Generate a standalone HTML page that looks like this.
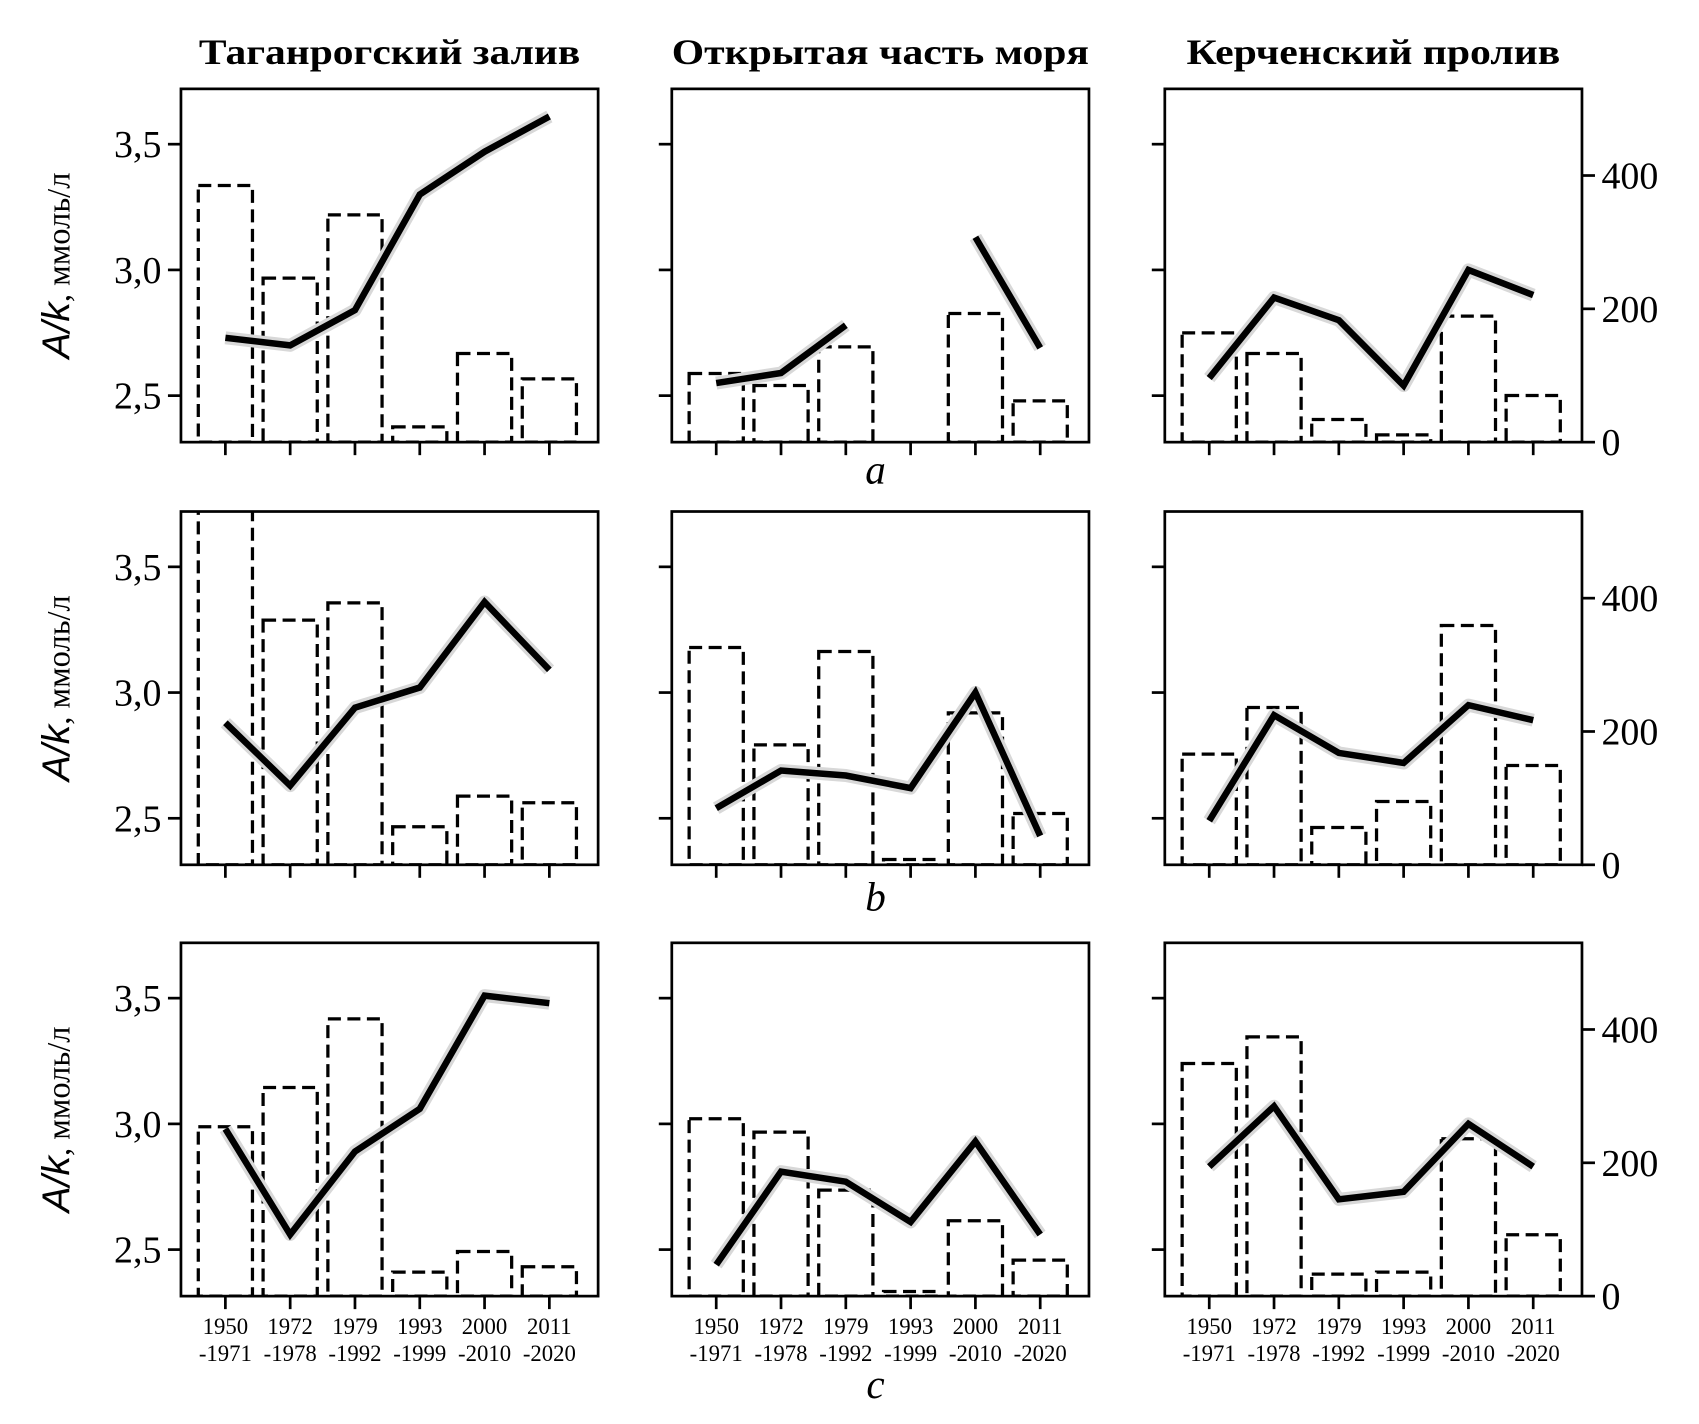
<!DOCTYPE html>
<html><head><meta charset="utf-8"><style>
html,body{margin:0;padding:0;background:#fff;}
svg{display:block;}
text{font-family:"Liberation Serif",serif;fill:#000;}
</style></head><body>
<svg id="fig" width="1699" height="1424" viewBox="0 0 1568 1314" preserveAspectRatio="none" xmlns="http://www.w3.org/2000/svg"></svg>
<script>
const categories = ["1950|-1971","1972|-1978","1979|-1992","1993|-1999","2000|-2010","2011|-2020"];
const regionTitles = ["Таганрогский залив","Открытая часть моря","Керченский пролив"];
const rowLabels = ["a","b","c"];
const leftTicks = [2.5,3.0,3.5];
const leftTickLabels = ["2,5","3,0","3,5"];
const rightTicks = [0,200,400];
// bar counts [row][panel]
const barsA1=[385,246,341,23,133,95], barsA2=[103,85,143,0,193,62], barsA3=[164,133,34,11,189,70];
const barsB1=[600,367,393,57,103,93], barsB2=[326,180,320,8,228,77], barsB3=[166,236,56,95,359,149];
const barsC1=[254,313,416,36,67,44], barsC2=[266,246,159,7,113,54], barsC3=[349,389,33,36,236,92];
// Alk lines
const lineA1=[2.73,2.70,2.84,3.30,3.47,3.61], lineA2=[2.55,2.59,2.78,null,3.13,2.69], lineA3=[2.57,2.89,2.80,2.54,3.00,2.90];
const lineB1=[2.88,2.63,2.94,3.02,3.36,3.09], lineB2=[2.54,2.69,2.67,2.62,3.00,2.43], lineB3=[2.49,2.91,2.76,2.72,2.95,2.89];
const lineC1=[2.98,2.56,2.89,3.06,3.51,3.48], lineC2=[2.44,2.81,2.77,2.61,2.93,2.56], lineC3=[2.83,3.07,2.70,2.73,3.00,2.83];

const bars=[[barsA1,barsA2,barsA3],[barsB1,barsB2,barsB3],[barsC1,barsC2,barsC3]];
const lines=[[lineA1,lineA2,lineA3],[lineB1,lineB2,lineB3],[lineC1,lineC2,lineC3]];

const NS="http://www.w3.org/2000/svg";
const svg=document.getElementById('fig');
function mk(tag,attrs,parent){const e=document.createElementNS(NS,tag);for(const k in attrs)e.setAttribute(k,attrs[k]);(parent||svg).appendChild(e);return e;}
const panelX=[167,620,1075], panelW=385, rowY=[82,472,870], panelH=326;
const yMinL=2.315, yMaxL=3.72, yMaxR=530;

regionTitles.forEach((t,i)=>{
  const e=mk('text',{x:panelX[i]+panelW/2,y:59,'text-anchor':'middle','font-size':33,'font-weight':'bold',textLength:[352,385,345][i],lengthAdjust:'spacingAndGlyphs'});
  e.textContent=t;
  
  
});

for(let r=0;r<3;r++){
  const top=rowY[r], bot=top+panelH;
  const yL=v=>bot-(v-yMinL)/(yMaxL-yMinL)*panelH;
  const yR=v=>bot-v/yMaxR*panelH;
  for(let p=0;p<3;p++){
    const x0=panelX[p];
    const xS=i=>x0+41+i*59.8;
    const g=mk('g',{});
    
    
    const clipId='c'+r+p;
    const cp=mk('clipPath',{id:clipId},g);mk('rect',{x:x0,y:top,width:panelW,height:panelH},cp);
    const bg=mk('g',{'clip-path':'url(#'+clipId+')'},g);
    bars[r][p].forEach((v,i)=>{
      if(v<=0)return;
      const b=mk('rect',{x:xS(i)-25,y:yR(v),width:50,height:bot-yR(v),fill:'none',stroke:'#000','stroke-width':3,'stroke-dasharray':'12 6'},bg);
      
      
    });
    const vals=lines[r][p];let segs=[],cur=[];
    vals.forEach((v,i)=>{if(v==null){if(cur.length)segs.push(cur);cur=[];}else cur.push([xS(i),yL(v)]);});
    if(cur.length)segs.push(cur);
    segs.forEach(s=>{
      const d=s.map((q,k)=>(k?'L':'M')+q[0]+' '+q[1]).join(' ');
      mk('path',{d:d,fill:'none',stroke:'#d8d8d8','stroke-width':12,'stroke-linejoin':'round'},bg);
      const l=mk('path',{d:d,fill:'none',stroke:'#000','stroke-width':6,'stroke-linejoin':'miter'},bg);
      
      
    });
    mk('rect',{x:x0,y:top,width:panelW,height:panelH,fill:'none',stroke:'#000','stroke-width':2.5},g);
    leftTicks.forEach((v,k)=>{
      mk('line',{x1:x0-12,x2:x0,y1:yL(v),y2:yL(v),stroke:'#000','stroke-width':2.5},g);
      if(p===0){const t=mk('text',{x:x0-18,y:yL(v)+12,'text-anchor':'end','font-size':35},g);t.textContent=leftTickLabels[k];
        }
    });
    if(p===2){
      rightTicks.forEach(v=>{
        mk('line',{x1:x0+panelW,x2:x0+panelW+12,y1:yR(v),y2:yR(v),stroke:'#000','stroke-width':2.5},g);
        const t=mk('text',{x:x0+panelW+18,y:yR(v)+12,'font-size':35},g);t.textContent=String(v);
        
      });
    }
    categories.forEach((c,i)=>{
      mk('line',{x1:xS(i),x2:xS(i),y1:bot,y2:bot+12,stroke:'#000','stroke-width':2.5},g);
      if(r===2){const pr=c.split('|');
        const t1=mk('text',{x:xS(i),y:bot+35,'text-anchor':'middle','font-size':21},g);t1.textContent=pr[0];
        const t2=mk('text',{x:xS(i),y:bot+60,'text-anchor':'middle','font-size':21},g);t2.textContent=pr[1];
        
        }
    });
  }
  const yl=mk('text',{transform:'translate(64,'+(top+panelH/2)+') rotate(-90)','text-anchor':'middle','font-size':30});
  yl.innerHTML='<tspan font-family="Liberation Sans, sans-serif" font-style="italic" font-size="36">A/k</tspan>, ммоль/л';
  
  
  const sl=mk('text',{x:808,y:[446,840,1290][r],'text-anchor':'middle','font-size':38,'font-style':'italic'});
  sl.textContent=rowLabels[r];
  
  
}
</script>
</body></html>
